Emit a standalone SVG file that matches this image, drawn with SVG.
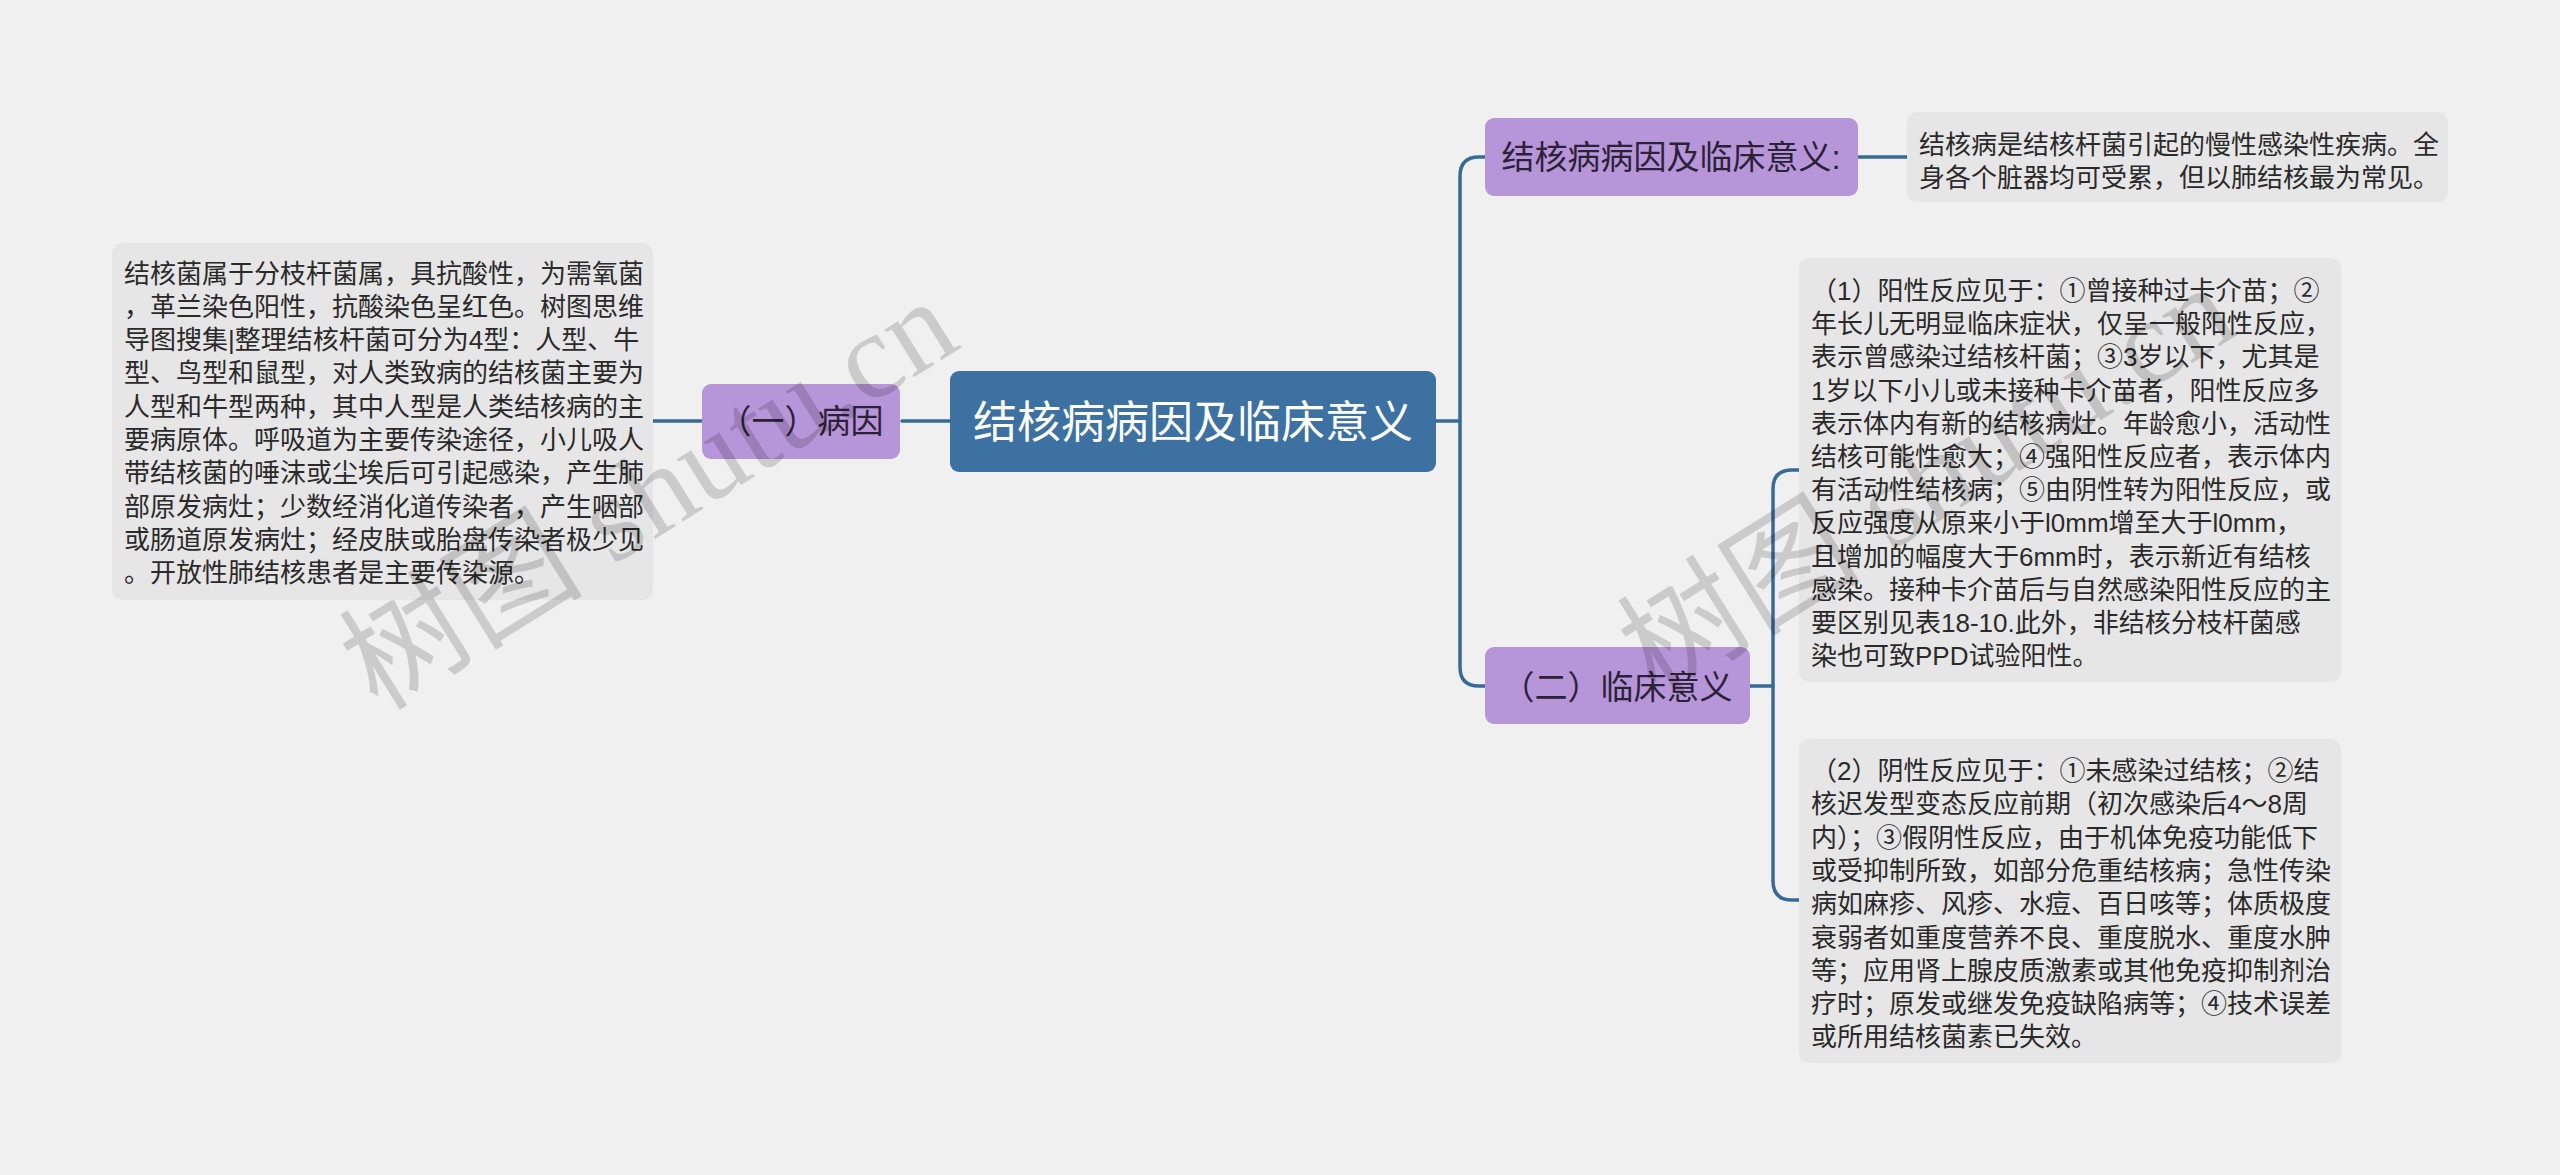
<svg xmlns="http://www.w3.org/2000/svg" width="2560" height="1175" viewBox="0 0 2560 1175">
<style>
.bg{fill:#f0f0f0}
.leaf{fill:#e6e6e6}
.sub{fill:#b795d9}
.root{fill:#3c71a1}
.con{fill:none;stroke:#386a97;stroke-width:3.5;stroke-linecap:round}
.t{font-family:"Liberation Sans","Noto Sans CJK SC",sans-serif;fill:#2a2a2a}
.lt{font-size:26px}
.st{font-size:33px;text-anchor:middle;fill:#2b2238}
.rt{font-size:44px;text-anchor:middle;fill:#ffffff}
.wm{font-family:"Liberation Serif","Noto Sans CJK SC",serif;font-size:122px;fill:#000;opacity:0.15}
</style>
<rect class="bg" x="0" y="0" width="2560" height="1175"/>

<g id="connectors">
<path class="con" d="M 902 421 H 950"/>
<path class="con" d="M 653 421 H 702"/>
<path class="con" d="M 1436 421 H 1460"/>
<path class="con" d="M 1485 157 H 1479 Q 1460 157 1460 176 V 667 Q 1460 686 1479 686 H 1485"/>
<path class="con" d="M 1858 157 H 1907"/>
<path class="con" d="M 1750 686 H 1773"/>
<path class="con" d="M 1799 470 H 1792 Q 1773 470 1773 489 V 881 Q 1773 900 1792 900 H 1799"/>
</g>

<g id="root">
<rect class="root" x="950" y="371" width="486" height="101" rx="9"/>
<text class="t rt" x="1193" y="438">结核病病因及临床意义</text>
</g>

<g id="node-bingyin">
<rect class="sub" x="702" y="384" width="198" height="75" rx="9"/>
<text class="t st" x="801" y="433">（一）病因</text>
</g>

<g id="leaf-bingyin">
<rect class="leaf" x="112" y="243" width="541" height="357" rx="10"/>
<text class="t lt" x="124" y="282.5">结核菌属于分枝杆菌属，具抗酸性，为需氧菌</text>
<text class="t lt" x="124" y="315.8">，革兰染色阳性，抗酸染色呈红色。树图思维</text>
<text class="t lt" x="124" y="349.1">导图搜集|整理结核杆菌可分为4型：人型、牛</text>
<text class="t lt" x="124" y="382.4">型、鸟型和鼠型，对人类致病的结核菌主要为</text>
<text class="t lt" x="124" y="415.7">人型和牛型两种，其中人型是人类结核病的主</text>
<text class="t lt" x="124" y="449.0">要病原体。呼吸道为主要传染途径，小儿吸人</text>
<text class="t lt" x="124" y="482.3">带结核菌的唾沫或尘埃后可引起感染，产生肺</text>
<text class="t lt" x="124" y="515.6">部原发病灶；少数经消化道传染者，产生咽部</text>
<text class="t lt" x="124" y="548.9">或肠道原发病灶；经皮肤或胎盘传染者极少见</text>
<text class="t lt" x="124" y="582.2">。开放性肺结核患者是主要传染源。</text>
</g>

<g id="node-top">
<rect class="sub" x="1485" y="118" width="373" height="78" rx="9"/>
<text class="t st" x="1671" y="169">结核病病因及临床意义:</text>
</g>

<g id="leaf-top">
<rect class="leaf" x="1907" y="112" width="541" height="90" rx="10"/>
<text class="t lt" x="1919" y="153.5">结核病是结核杆菌引起的慢性感染性疾病。全</text>
<text class="t lt" x="1919" y="187">身各个脏器均可受累，但以肺结核最为常见。</text>
</g>

<g id="node-linchuang">
<rect class="sub" x="1485" y="647" width="265" height="77" rx="9"/>
<text class="t st" x="1617" y="699">（二）临床意义</text>
</g>

<g id="leaf-positive">
<rect class="leaf" x="1799" y="258" width="542" height="424" rx="10"/>
<text class="t lt" x="1811" y="300">（1）阳性反应见于：①曾接种过卡介苗；②</text>
<text class="t lt" x="1811" y="333.2">年长儿无明显临床症状，仅呈一般阳性反应，</text>
<text class="t lt" x="1811" y="366.4">表示曾感染过结核杆菌；③3岁以下，尤其是</text>
<text class="t lt" x="1811" y="399.6">1岁以下小儿或未接种卡介苗者，阳性反应多</text>
<text class="t lt" x="1811" y="432.8">表示体内有新的结核病灶。年龄愈小，活动性</text>
<text class="t lt" x="1811" y="466">结核可能性愈大；④强阳性反应者，表示体内</text>
<text class="t lt" x="1811" y="499.2">有活动性结核病；⑤由阴性转为阳性反应，或</text>
<text class="t lt" x="1811" y="532.4">反应强度从原来小于l0mm增至大于l0mm，</text>
<text class="t lt" x="1811" y="565.6">且增加的幅度大于6mm时，表示新近有结核</text>
<text class="t lt" x="1811" y="598.8">感染。接种卡介苗后与自然感染阳性反应的主</text>
<text class="t lt" x="1811" y="632">要区别见表18-10.此外，非结核分枝杆菌感</text>
<text class="t lt" x="1811" y="665.2">染也可致PPD试验阳性。</text>
</g>

<g id="leaf-negative">
<rect class="leaf" x="1799" y="739" width="542" height="324" rx="10"/>
<text class="t lt" x="1811" y="780">（2）阴性反应见于：①未感染过结核；②结</text>
<text class="t lt" x="1811" y="813.3">核迟发型变态反应前期（初次感染后4～8周</text>
<text class="t lt" x="1811" y="846.6">内）；③假阴性反应，由于机体免疫功能低下</text>
<text class="t lt" x="1811" y="879.9">或受抑制所致，如部分危重结核病；急性传染</text>
<text class="t lt" x="1811" y="913.2">病如麻疹、风疹、水痘、百日咳等；体质极度</text>
<text class="t lt" x="1811" y="946.5">衰弱者如重度营养不良、重度脱水、重度水肿</text>
<text class="t lt" x="1811" y="979.8">等；应用肾上腺皮质激素或其他免疫抑制剂治</text>
<text class="t lt" x="1811" y="1013.1">疗时；原发或继发免疫缺陷病等；④技术误差</text>
<text class="t lt" x="1811" y="1046.4">或所用结核菌素已失效。</text>
</g>

<g id="watermarks">
<text class="wm" x="378" y="712" transform="rotate(-32 378 712)" textLength="690">树图 shutu.cn</text>
<text class="wm" x="1656" y="698" transform="rotate(-32 1656 698)" textLength="690">树图 shutu.cn</text>
</g>
</svg>
